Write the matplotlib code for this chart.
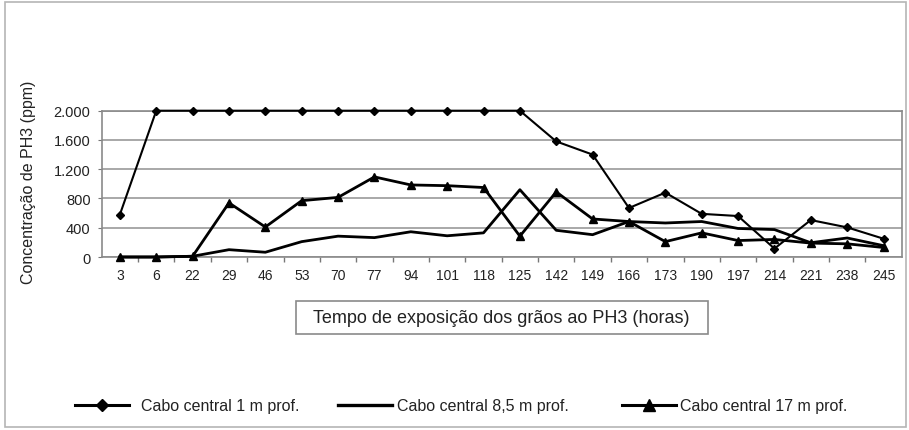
import matplotlib
matplotlib.use("Agg")
import matplotlib.pyplot as plt
from matplotlib.patches import Rectangle
from matplotlib.lines import Line2D
from matplotlib.ticker import FuncFormatter

plt.rcParams['font.family'] = ['Liberation Sans', 'DejaVu Sans']

hours = ['3', '6', '22', '29', '46', '53', '70', '77', '94', '101', '118',
         '125', '142', '149', '166', '173', '190', '197', '214', '221', '238', '245']
cabo_1m = [580, 2000, 2000, 2000, 2000, 2000, 2000, 2000, 2000, 2000, 2000,
           2000, 1580, 1400, 670, 880, 590, 560, 115, 505, 405, 250]
cabo_8_5m = [0, 0, 10, 100, 65, 210, 285, 265, 345, 290, 330,
             920, 365, 305, 485, 465, 485, 390, 375, 195, 260, 155]
cabo_17m = [0, 0, 10, 740, 410, 770, 815, 1095, 985, 975, 950,
            285, 890, 520, 485, 210, 330, 225, 240, 190, 180, 130]
labels = ['Cabo central 1 m prof.', 'Cabo central 8,5 m prof.', 'Cabo central 17 m prof.']
y_ticks = [0, 400, 800, 1200, 1600, 2000]

W, H = 909, 431
fig = plt.figure(figsize=(W / 100, H / 100), dpi=100)

# outer frame
fig.patches.append(Rectangle((5 / W, 3 / H), 901 / W, 425 / H, transform=fig.transFigure,
                             fill=False, edgecolor='#b5b5b5', lw=1.2))

ax = fig.add_axes([101.7 / W, 1 - 258 / H, 800 / W, 146.3 / H])
x = list(range(len(hours)))
ax.plot(x, cabo_1m, color='black', lw=1.5, marker='D', ms=3.8, zorder=3, clip_on=False)
ax.plot(x, cabo_8_5m, color='black', lw=2.0, zorder=3, clip_on=False)
ax.plot(x, cabo_17m, color='black', lw=2.0, marker='^', ms=6, zorder=3, clip_on=False)

ax.set_xlim(-0.5, len(hours) - 0.5)
ax.set_ylim(0, 2000)
ax.set_yticks(y_ticks)
ax.yaxis.set_major_formatter(FuncFormatter(lambda v, p: f"{int(v):,}".replace(',', '.')))
ax.grid(axis='y', color='#9a9a9a', lw=1.2)
ax.set_axisbelow(True)

ax.set_xticks(x)
ax.set_xticklabels(hours, fontsize=10, color='#222222')
ax.tick_params(axis='x', which='major', length=0, pad=8)
ax.set_xticks([i + 0.5 for i in range(len(hours) - 1)], minor=True)
ax.tick_params(axis='x', which='minor', length=3.5, direction='out', color='#777777', width=1)
ax.tick_params(axis='y', length=3, color='#777777', labelsize=10.5, pad=5, labelcolor='#222222')
for s in ax.spines.values():
    s.set_color('#8a8a8a')
    s.set_linewidth(1.2)

fig.text(29 / W, 1 - 182.5 / H, 'Concentração de PH3 (ppm)', rotation=90,
         ha='center', va='center', fontsize=11.5, color='#222222')

# x-axis title in a box
fig.patches.append(Rectangle((295.7 / W, 1 - 335 / H), 412 / W, 33.3 / H, transform=fig.transFigure,
                             fill=False, edgecolor='#8a8a8a', lw=1.2))
fig.text(501.7 / W, 1 - 318.5 / H, 'Tempo de exposição dos grãos ao PH3 (horas)',
         ha='center', va='center', fontsize=13, color='#222222')

# legend
h1 = Line2D([], [], color='black', lw=2.2, marker='D', ms=6)
h2 = Line2D([], [], color='black', lw=2.4)
h3 = Line2D([], [], color='black', lw=2.2, marker='^', ms=9)
ly = 1 - 406.7 / H
for h, lab, xs, tp in [(h1, labels[0], 75, 0.75), (h2, labels[1], 338, 0.3), (h3, labels[2], 622, 0.25)]:
    lg = fig.legend([h], [lab], loc='center left', bbox_to_anchor=(xs / W, ly),
                    frameon=False, borderpad=0, borderaxespad=0, handlelength=3.4,
                    handletextpad=tp, fontsize=11.5, numpoints=1)
    for t in lg.get_texts():
        t.set_color('#222222')

fig.savefig('out.png', dpi=100)
